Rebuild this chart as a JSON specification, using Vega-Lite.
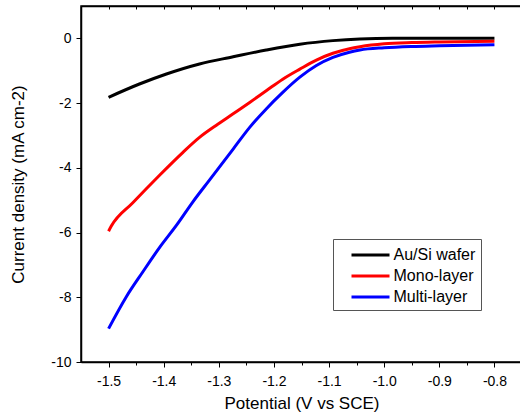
{
  "$schema": "https://vega.github.io/schema/vega-lite/v6.json",
  "width": 441,
  "height": 356,
  "autosize": {"type": "none"},
  "padding": {"left": 81, "top": 6, "right": 0, "bottom": 57},
  "background": "white",
  "config": {
    "view": {"stroke": "black", "strokeWidth": 1.5},
    "font": "Liberation Sans",
    "axis": {
      "domainColor": "black",
      "domainWidth": 1.5,
      "tickColor": "black",
      "tickWidth": 1,
      "labelColor": "black",
      "labelFont": "Liberation Sans",
      "labelFontSize": 14,
      "titleColor": "black",
      "titleFont": "Liberation Sans",
      "titleFontSize": 17,
      "titleFontWeight": "normal",
      "grid": false
    }
  },
  "data": {
    "values": [
      {"series": "Au/Si wafer", "V": -1.5, "J": -1.82},
      {"series": "Au/Si wafer", "V": -1.444, "J": -1.41},
      {"series": "Au/Si wafer", "V": -1.395, "J": -1.1},
      {"series": "Au/Si wafer", "V": -1.335, "J": -0.79},
      {"series": "Au/Si wafer", "V": -1.274, "J": -0.57},
      {"series": "Au/Si wafer", "V": -1.214, "J": -0.36},
      {"series": "Au/Si wafer", "V": -1.153, "J": -0.18},
      {"series": "Au/Si wafer", "V": -1.093, "J": -0.07},
      {"series": "Au/Si wafer", "V": -1.044, "J": -0.02},
      {"series": "Au/Si wafer", "V": -0.985, "J": 0},
      {"series": "Au/Si wafer", "V": -0.9, "J": 0},
      {"series": "Au/Si wafer", "V": -0.8, "J": 0},
      {"series": "Mono-layer", "V": -1.5, "J": -5.96},
      {"series": "Mono-layer", "V": -1.495, "J": -5.8},
      {"series": "Mono-layer", "V": -1.456, "J": -5.08},
      {"series": "Mono-layer", "V": -1.407, "J": -4.22},
      {"series": "Mono-layer", "V": -1.365, "J": -3.52},
      {"series": "Mono-layer", "V": -1.335, "J": -3.06},
      {"series": "Mono-layer", "V": -1.305, "J": -2.69},
      {"series": "Mono-layer", "V": -1.274, "J": -2.33},
      {"series": "Mono-layer", "V": -1.244, "J": -1.98},
      {"series": "Mono-layer", "V": -1.214, "J": -1.62},
      {"series": "Mono-layer", "V": -1.184, "J": -1.26},
      {"series": "Mono-layer", "V": -1.153, "J": -0.95},
      {"series": "Mono-layer", "V": -1.123, "J": -0.67},
      {"series": "Mono-layer", "V": -1.093, "J": -0.46},
      {"series": "Mono-layer", "V": -1.063, "J": -0.32},
      {"series": "Mono-layer", "V": -1.044, "J": -0.26},
      {"series": "Mono-layer", "V": -1.0, "J": -0.17},
      {"series": "Mono-layer", "V": -0.95, "J": -0.13},
      {"series": "Mono-layer", "V": -0.9, "J": -0.11},
      {"series": "Mono-layer", "V": -0.8, "J": -0.09},
      {"series": "Multi-layer", "V": -1.5, "J": -8.97},
      {"series": "Multi-layer", "V": -1.468, "J": -7.99},
      {"series": "Multi-layer", "V": -1.438, "J": -7.22},
      {"series": "Multi-layer", "V": -1.407, "J": -6.45},
      {"series": "Multi-layer", "V": -1.377, "J": -5.78},
      {"series": "Multi-layer", "V": -1.347, "J": -5.05},
      {"series": "Multi-layer", "V": -1.317, "J": -4.38},
      {"series": "Multi-layer", "V": -1.274, "J": -3.42},
      {"series": "Multi-layer", "V": -1.244, "J": -2.75},
      {"series": "Multi-layer", "V": -1.214, "J": -2.18},
      {"series": "Multi-layer", "V": -1.184, "J": -1.67},
      {"series": "Multi-layer", "V": -1.153, "J": -1.2},
      {"series": "Multi-layer", "V": -1.123, "J": -0.84},
      {"series": "Multi-layer", "V": -1.093, "J": -0.59},
      {"series": "Multi-layer", "V": -1.063, "J": -0.43},
      {"series": "Multi-layer", "V": -1.044, "J": -0.36},
      {"series": "Multi-layer", "V": -1.0, "J": -0.29},
      {"series": "Multi-layer", "V": -0.95, "J": -0.25},
      {"series": "Multi-layer", "V": -0.9, "J": -0.23},
      {"series": "Multi-layer", "V": -0.8, "J": -0.2}
    ]
  },
  "resolve": {"axis": {"x": "independent"}},
  "layer": [
    {
      "mark": {"type": "line", "strokeWidth": 3, "interpolate": "monotone", "clip": true},
      "encoding": {
        "x": {
          "field": "V", "type": "quantitative",
          "scale": {"domain": [-1.55, -0.75], "nice": false, "zero": false},
          "axis": {
            "orient": "bottom",
            "title": "Potential (V vs SCE)",
            "values": [-1.5, -1.45, -1.4, -1.35, -1.3, -1.25, -1.2, -1.15, -1.1, -1.05, -1.0, -0.95, -0.9, -0.85, -0.8],
            "labelExpr": "abs(round(datum.value * 20)) % 2 == 0 ? replace(format(datum.value, '.1f'), '\u2212', '-') : ''",
            "tickSize": {"condition": {"test": "abs(round(datum.value * 20)) % 2 == 0", "value": 5}, "value": 3},
            "labelPadding": 7,
            "titlePadding": 7,
            "labelFlush": false,
            "labelOverlap": false
          }
        },
        "y": {
          "field": "J", "type": "quantitative",
          "scale": {"domain": [-10, 1], "nice": false, "zero": false},
          "axis": {
            "orient": "left",
            "title": "Current density (mA cm-2)",
            "values": [-10, -9, -8, -7, -6, -5, -4, -3, -2, -1, 0],
            "labelExpr": "abs(round(datum.value)) % 2 == 0 ? replace(format(datum.value, 'd'), '\u2212', '-') : ''",
            "tickSize": {"condition": {"test": "abs(round(datum.value)) % 2 == 0", "value": 5}, "value": 3},
            "labelPadding": 5,
            "titlePadding": 23,
            "labelFlush": false,
            "labelOverlap": false
          }
        },
        "color": {
          "field": "series", "type": "nominal",
          "sort": ["Au/Si wafer", "Mono-layer", "Multi-layer"],
          "scale": {"domain": ["Au/Si wafer", "Mono-layer", "Multi-layer"], "range": ["#000000", "#ff0000", "#0000ff"]},
          "legend": {
            "title": null,
            "orient": "none",
            "legendX": 252,
            "legendY": 233,
            "padding": 5,
            "strokeColor": "#555555",
            "fillColor": "white",
            "symbolType": "M-2,0H2",
            "symbolSize": 361,
            "symbolStrokeWidth": 3,
            "symbolOffset": 21.5,
            "labelOffset": 12,
            "labelFont": "Liberation Sans",
            "labelFontSize": 16,
            "labelColor": "black",
            "rowPadding": 2
          }
        }
      }
    },
    {
      "mark": {"type": "line", "opacity": 0},
      "encoding": {
        "x": {
          "field": "V", "type": "quantitative",
          "axis": {
            "orient": "top", "title": null, "labels": false, "domain": true,
            "domainColor": "black", "tickColor": "black", "offset": 0, "zindex": 2,
            "values": [-1.5, -1.45, -1.4, -1.35, -1.3, -1.25, -1.2, -1.15, -1.1, -1.05, -1.0, -0.95, -0.9, -0.85, -0.8],
            "tickSize": -3
          }
        },
        "y": {"field": "J", "type": "quantitative"},
        "detail": {"field": "series"}
      }
    }
  ]
}
